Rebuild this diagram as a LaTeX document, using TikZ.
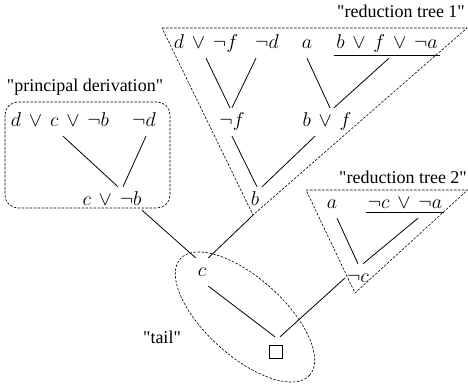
\RequirePackage{fix-cm}
\documentclass[tikz,border=0pt]{standalone}
\usepackage{fontspec}
\setmainfont{Liberation Serif}[Ligatures=TeXOff]
\newcommand{\myor}{\mathbin{\mkern3mu\vee\mkern3mu}}
\begin{document}
\begin{tikzpicture}[x=1pt,y=-1pt,
 m/.style={font=\fontsize{20}{22}\selectfont, anchor=base, text height=14pt, text depth=6pt, inner xsep=2pt, inner ysep=4pt},
 lbl/.style={font=\fontsize{18}{20}\selectfont, anchor=base, inner sep=0pt},
 edge/.style={line width=0.8pt},
 region/.style={dash pattern=on 2.5pt off 1.5pt, line width=0.6pt}]
\useasboundingbox (0,0) rectangle (468,388);
% tree 1
\node[m] (dnf) at (206,48) {$d\myor\neg f$};
\node[m] (nd1) at (267,48) {$\neg d$};
\node[m] (a1) at (307,48) {$a$};
\node[m] (bfa) at (387,48) {$b\myor f\myor\neg a$};
\node[m] (nf) at (232,126) {$\neg f$};
\node[m] (bf) at (327,126) {$b\myor f$};
\node[m] (b) at (255,205) {$b$};
% principal
\node[m] (dcb) at (60,126) {$d\myor c\myor\neg b$};
\node[m] (nd2) at (144,126) {$\neg d$};
\node[m] (cnb) at (112,205) {$c\myor\neg b$};
% tail
\node[m] (c) at (202,276) {$c$};
\node[draw, line width=1.3pt, minimum size=13pt, inner sep=0pt] (box) at (276,352) {};
% tree 2
\node[m] (a2) at (332,208) {$a$};
\node[m] (nca) at (405,208) {$\neg c\myor\neg a$};
\node[m] (nc) at (358,282) {$\neg c$};
% edges
\draw[edge] (dnf.south) -- ([xshift=-2pt]nf.north);
\draw[edge] ([xshift=-11pt]nd1.south) -- (nf.north);
\draw[edge] (a1.south) -- ([xshift=3pt]bf.north);
\draw[edge] ([xshift=2pt]bfa.south) -- ([xshift=7pt]bf.north);
\draw[edge] (nf.south) -- ([xshift=2pt]b.north);
\draw[edge] ([xshift=-12pt]bf.south) -- ([xshift=7pt]b.north);
\draw[edge] ([xshift=3pt]dcb.south) -- ([xshift=6pt]cnb.north);
\draw[edge] ([xshift=2pt]nd2.south) -- ([xshift=11pt]cnb.north);
\draw[edge] ([xshift=30pt,yshift=5pt]cnb.south) -- (c.north west);
\draw[edge] ([xshift=-2pt]b.south) -- (c.north east);
\draw[edge] ([xshift=5pt]a2.south) -- (nc.north);
\draw[edge] ([xshift=13pt]nca.south) -- ([xshift=5pt]nc.north);
\draw[edge] (nc.west) -- ([xshift=4pt,yshift=8pt]box.north);
\draw[edge] (c.south east) -- ([xshift=-1pt,yshift=8pt]box.north);
% underlines
\draw[edge] ([yshift=3pt]bfa.south west) -- ([yshift=3pt]bfa.south east);
\draw[edge] ([yshift=6pt]nca.south west) -- ([yshift=6pt]nca.south east);
% regions
\draw[region] (162,28) -- (467,28) -- (253,215) -- cycle;
\draw[region] (306,190) -- (467.5,190) -- (355,293) -- cycle;
\draw[region, rounded corners=13pt] (5,102) rectangle (170,208);
\draw[region, rotate around={-42:(245,317)}] (245,317) ellipse [x radius=87, y radius=39];
% labels
\node[lbl] (t1) at (401,17) {"reduction tree 1"};
\node[lbl] (t2) at (403,183) {"reduction tree 2"};
\node[lbl] (pd) at (85,91) {"principal derivation"};
\node[lbl] (tl) at (162,343) {"tail"};
\end{tikzpicture}
\end{document}
